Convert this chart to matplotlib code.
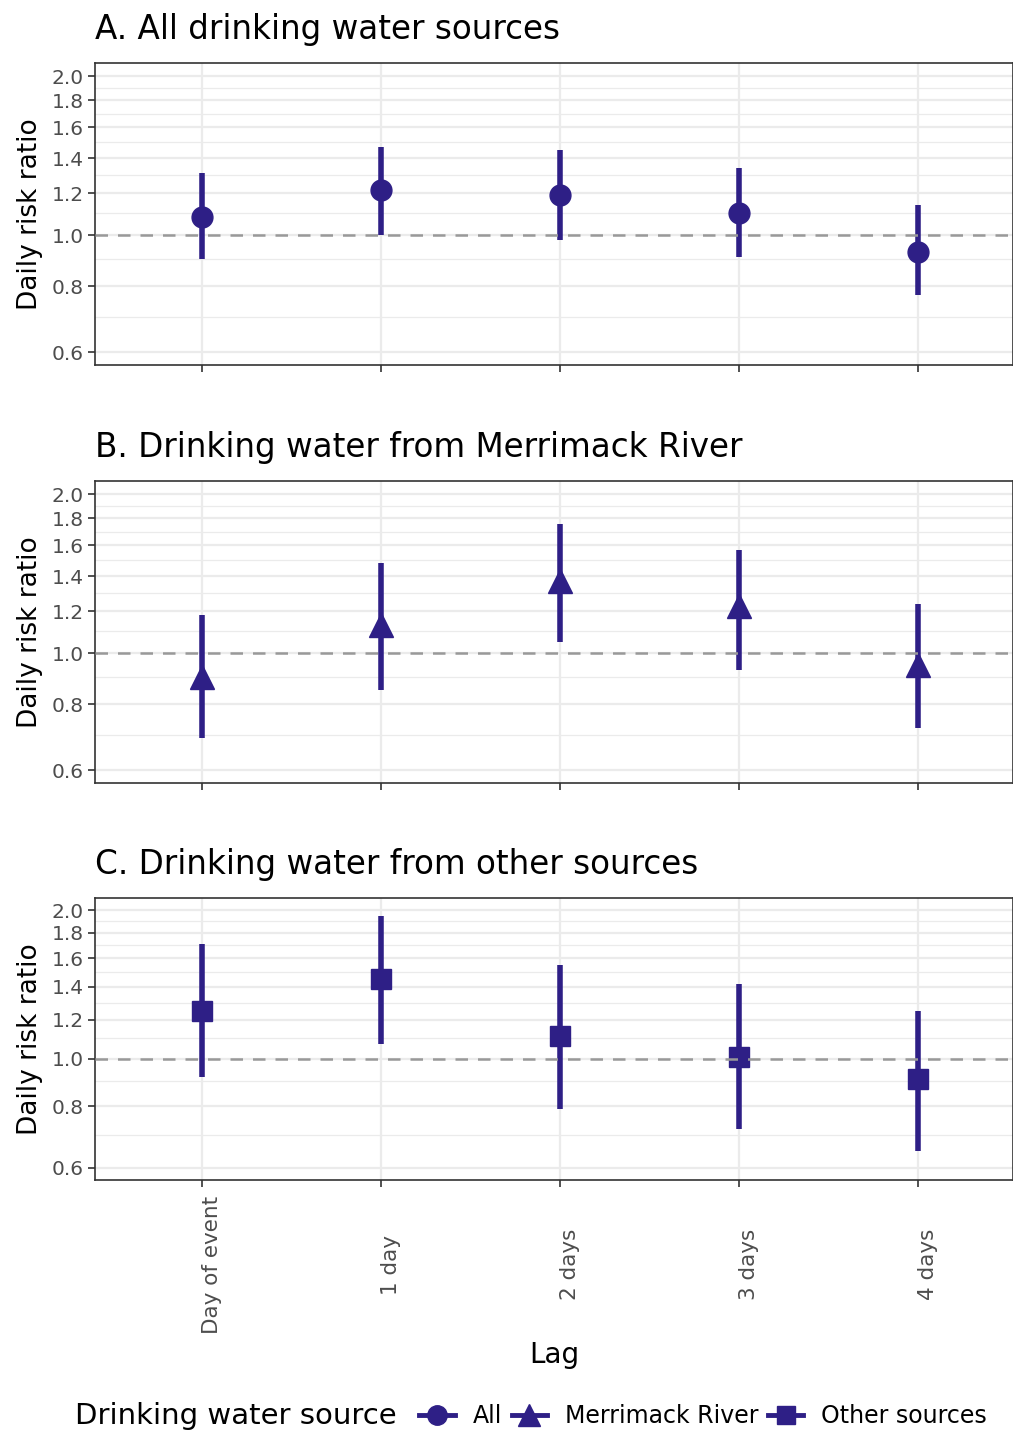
import matplotlib.pyplot as plt
from matplotlib.lines import Line2D
from matplotlib.ticker import FixedLocator, NullFormatter

plt.rcParams['font.family'] = ['DejaVu Sans']

# 数据
lags = ['Day of event', '1 day', '2 days', '3 days', '4 days']

all_est = [1.08, 1.22, 1.19, 1.10, 0.93]
all_lo = [0.90, 1.00, 0.98, 0.91, 0.77]
all_hi = [1.31, 1.47, 1.45, 1.34, 1.14]

mer_est = [0.90, 1.13, 1.37, 1.23, 0.95]
mer_lo = [0.69, 0.85, 1.05, 0.93, 0.72]
mer_hi = [1.18, 1.48, 1.76, 1.57, 1.24]

oth_est = [1.25, 1.45, 1.11, 1.01, 0.91]
oth_lo = [0.92, 1.07, 0.79, 0.72, 0.65]
oth_hi = [1.71, 1.95, 1.55, 1.42, 1.25]

titles = ['A. All drinking water sources',
          'B. Drinking water from Merrimack River',
          'C. Drinking water from other sources']
legend_labels = ['All', 'Merrimack River', 'Other sources']
markers = ['o', '^', 's']
msizes = [15, 17, 14]

major_ticks = [0.6, 0.8, 1.0, 1.2, 1.4, 1.6, 1.8, 2.0]
minor_ticks = [0.7, 0.9, 1.1, 1.3, 1.5, 1.7, 1.9]

color = '#2E1F86'
W, H = 1013, 1430

fig = plt.figure(figsize=(W / 100, H / 100), dpi=100)

# 每个面板的像素位置 (上, 下)
panel_px = [(63, 365), (481, 783), (898, 1180)]
series = [(all_est, all_lo, all_hi), (mer_est, mer_lo, mer_hi), (oth_est, oth_lo, oth_hi)]
x = list(range(1, len(lags) + 1))

for i, ((top, bottom), (est, lo, hi)) in enumerate(zip(panel_px, series)):
    ax = fig.add_axes([95 / W, 1 - bottom / H, (W - 95) / W, (bottom - top) / H])
    ax.set_yscale('log')
    ax.set_ylim(0.567, 2.12)
    ax.set_xlim(0.4, 5.53)

    ax.yaxis.set_major_locator(FixedLocator(major_ticks))
    ax.yaxis.set_minor_locator(FixedLocator(minor_ticks))
    ax.yaxis.set_minor_formatter(NullFormatter())
    ax.set_yticklabels(['%.1f' % t for t in major_ticks])

    ax.grid(True, which='major', color='#EBEBEB', lw=1.6, zorder=0)
    ax.grid(True, which='minor', axis='y', color='#EBEBEB', lw=0.9, zorder=0)
    ax.set_axisbelow(True)

    # 误差线 + 点
    ax.vlines(x, lo, hi, color=color, lw=4, zorder=3)
    ax.plot(x, est, ls='none', marker=markers[i], ms=msizes[i], color=color, zorder=3)
    # 参考线
    ax.axhline(1.0, color='#999999', lw=1.8, ls=(0, (5, 4)), zorder=4)

    ax.set_xticks(x)
    ax.tick_params(axis='both', which='major', length=5, width=1.2, color='#333333',
                   labelcolor='#4D4D4D', labelsize=14.5, pad=3)
    ax.tick_params(axis='y', which='minor', length=0)
    for sp in ax.spines.values():
        sp.set_color('#333333')
        sp.set_linewidth(1.2)

    ax.set_title(titles[i], loc='left', fontsize=23.5, pad=17)
    ax.set_ylabel('Daily risk ratio', fontsize=19, labelpad=6)

    if i < 2:
        ax.set_xticklabels([])
    else:
        ax.set_xticklabels(lags, rotation=90, fontsize=15.5)
        plt.setp(ax.get_xticklabels(), va='center', ha='left')
        ax.tick_params(axis='x', pad=56)
        ax.set_xlabel('Lag', fontsize=20, labelpad=5)

# 图例
fig.text(75 / W, 1 - 1416 / H, 'Drinking water source', fontsize=21, va='center', ha='left')
handles = [Line2D([], [], color=color, lw=3.5, marker=m, ms=s - 1) for m, s in zip(markers, msizes)]
fig.legend(handles, legend_labels, ncol=3, loc='center left',
           bbox_to_anchor=(410 / W, 1 - 1416 / H), frameon=False, fontsize=17,
           handlelength=1.5, handletextpad=0.76, columnspacing=0.4, borderaxespad=0)

plt.savefig('out.png', dpi=100)
